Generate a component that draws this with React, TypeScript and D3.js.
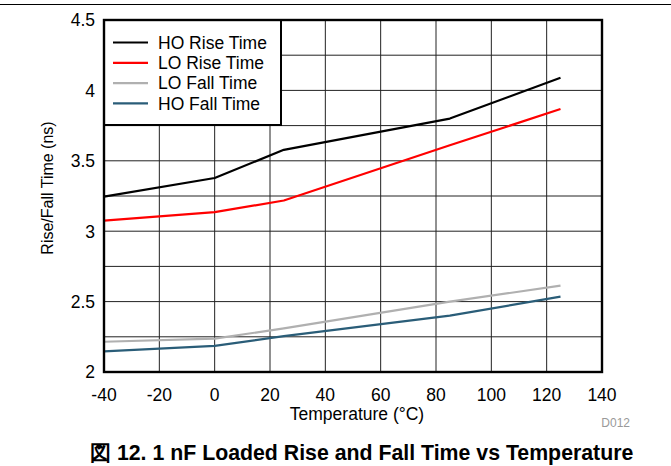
import React from "react";
import * as d3 from "d3";

const temps = [-40, 0, 25, 85, 125];
const hoRise = [3.245, 3.378, 3.578, 3.8, 4.09];
const loRise = [3.075, 3.135, 3.218, 3.61, 3.868];
const loFall = [2.215, 2.237, 2.31, 2.5, 2.613];
const hoFall = [2.147, 2.185, 2.255, 2.4, 2.535];

const seriesNames = ["HO Rise Time", "LO Rise Time", "LO Fall Time", "HO Fall Time"];
const seriesColors = ["#000000", "#ff0000", "#b0b0b0", "#2a5d78"];
const seriesValues = [hoRise, loRise, loFall, hoFall];

const xTicks = [-40, -20, 0, 20, 40, 60, 80, 100, 120, 140];
const yTicks = [2, 2.5, 3, 3.5, 4, 4.5];
const yGrid = [2, 2.25, 2.5, 2.75, 3, 3.25, 3.5, 3.75, 4, 4.25, 4.5];

const FONT = "'Liberation Sans', Arial, sans-serif";

export default function App() {
  const W = 671, H = 466;
  const x = d3.scaleLinear().domain([-40, 140]).range([104, 602]);
  const y = d3.scaleLinear().domain([2, 4.5]).range([372, 20]);
  const line = d3
    .line<[number, number]>()
    .x((d) => x(d[0]))
    .y((d) => y(d[1]));

  return (
    <svg
      width={W}
      height={H}
      style={{ position: "absolute", left: 0, top: 0, background: "#fff" }}
      fontFamily={FONT}
    >
      <line x1={0} x2={W} y1={4.5} y2={4.5} stroke="#000" strokeWidth={1.2} />
      {/* grid */}
      {xTicks.map((t) => (
        <line key={"gx" + t} x1={x(t)} x2={x(t)} y1={y(4.5)} y2={y(2)} stroke="#222" strokeWidth={1} />
      ))}
      {yGrid.map((t) => (
        <line key={"gy" + t} x1={x(-40)} x2={x(140)} y1={y(t)} y2={y(t)} stroke="#222" strokeWidth={1} />
      ))}
      {/* series */}
      {seriesValues.map((vals, i) => (
        <path
          key={"s" + i}
          d={line(temps.map((t, j) => [t, vals[j]] as [number, number])) || ""}
          fill="none"
          stroke={seriesColors[i]}
          strokeWidth={2.2}
          strokeLinejoin="round"
        />
      ))}
      {/* legend */}
      <rect x={x(-40)} y={y(4.5)} width={177} height={105} fill="#fff" stroke="#000" strokeWidth={2} />
      {seriesNames.map((n, i) => (
        <g key={"l" + i}>
          <line x1={113} x2={148} y1={42.5 + i * 20.3} y2={42.5 + i * 20.3} stroke={seriesColors[i]} strokeWidth={2.2} />
          <text x={158} y={42.5 + i * 20.3} dy="0.35em" fontSize={17.5} fill="#000">
            {n}
          </text>
        </g>
      ))}
      {/* frame */}
      <rect x={x(-40)} y={y(4.5)} width={x(140) - x(-40)} height={y(2) - y(4.5)} fill="none" stroke="#000" strokeWidth={2.4} />
      {/* x ticks */}
      {xTicks.map((t) => (
        <text key={"xt" + t} x={x(t)} y={401} textAnchor="middle" fontSize={17.5} fill="#000">
          {t}
        </text>
      ))}
      {yTicks.map((t) => (
        <text key={"yt" + t} x={95} y={y(t)} dy="0.36em" textAnchor="end" fontSize={17.5} fill="#000">
          {t}
        </text>
      ))}
      <text x={357} y={420} textAnchor="middle" fontSize={17.5} fill="#000">
        Temperature (°C)
      </text>
      <text transform="translate(53,188) rotate(-90)" textAnchor="middle" fontSize={16} fill="#000">
        Rise/Fall Time (ns)
      </text>
      <text x={630} y={427} textAnchor="end" fontSize={12} fill="#999">
        D012
      </text>
      <text x={90} y={460} fontSize={21.3} fontWeight="bold" fill="#000">
        図 12. 1 nF Loaded Rise and Fall Time vs Temperature
      </text>
    </svg>
  );
}
